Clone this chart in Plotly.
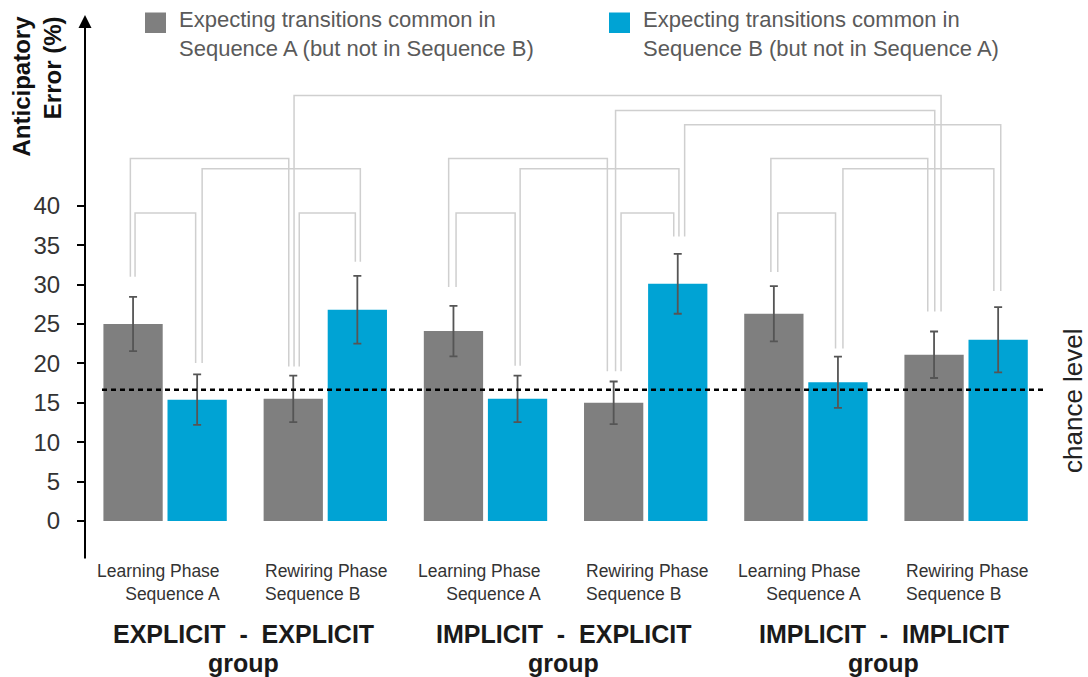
import plotly.graph_objects as go

# ---- data -------------------------------------------------------------
phase_labels = ["Learning Phase<br>Sequence A", "Rewiring Phase<br>Sequence B"] * 3
group_titles = ["EXPLICIT\u00a0\u00a0-\u00a0\u00a0EXPLICIT",
                "IMPLICIT\u00a0\u00a0-\u00a0\u00a0EXPLICIT",
                "IMPLICIT\u00a0\u00a0-\u00a0\u00a0IMPLICIT"]
series_names = ["Expecting transitions common in<br>Sequence A (but not in Sequence B)",
                "Expecting transitions common in<br>Sequence B (but not in Sequence A)"]

seq_a_mean = [25.0, 15.5, 24.1, 15.0, 26.3, 21.1]
seq_a_err = [3.45, 2.95, 3.2, 2.7, 3.5, 2.95]
seq_b_mean = [15.4, 26.8, 15.5, 30.1, 17.6, 23.0]
seq_b_err = [3.2, 4.3, 2.95, 3.8, 3.25, 4.15]

chance_level = 100 / 6
y_ticks = [0, 5, 10, 15, 20, 25, 30, 35, 40]

# ---- geometry -----------------------------------------------------------
W, H = 1088, 677
M_L, M_R, M_T, M_B = 85, 0, 0, 117
PLOT_W = W - M_L - M_R
PLOT_H = H - M_T - M_B
PX = 1 / 160.2          # one screen pixel in x-axis units
YPX = 1 / 7.88          # one screen pixel in y-axis units
BAR_W = 0.37
BAR_GAP = 0.03
X_RANGE = [-0.5, -0.5 + PLOT_W * PX]
Y_RANGE = [-39 * YPX, 521 * YPX]

GRAY = "#7f7f7f"
BLUE = "#00a3d4"
BRACKET = "#cfcfcf"
FONT = "Liberation Sans"

pos = list(range(len(phase_labels)))


def paper_x(px):
    return (px - M_L) / PLOT_W


def paper_y(py):
    return 1 - (py - M_T) / PLOT_H


def bar_center(k):
    """x of bar k (0..11): pairs alternate gray (left) / blue (right)."""
    pair, side = divmod(k, 2)
    return pair + (-1 if side == 0 else 1) * (BAR_W + BAR_GAP) / 2


# where the comparison legs stop above each bar
bracket_feet = [31.0, 20.05, 19.6, 32.9, 29.7, 19.7, 19.0, 36.1, 31.6, 21.9, 26.6, 29.2]
# (left bar, right bar, height, left leg shift px, right leg shift px)
brackets = [
    (0, 1, 39.1, 2, -1.5), (2, 3, 39.1, 6, -2), (0, 2, 46.0, -2.7, -4.5),
    (1, 3, 44.7, 5, 3), (4, 5, 39.1, 2.6, -2.4), (6, 7, 39.1, 7.4, -4),
    (4, 6, 46.0, -4.8, -6.3), (5, 7, 44.7, 2.6, 1.2), (8, 9, 39.1, 3.9, -2.4),
    (8, 10, 46.0, -3, -6.3), (9, 11, 44.7, 5, -4.3), (7, 11, 50.3, 6.9, 2.6),
    (6, 10, 52.1, 1.9, 0.7), (2, 10, 54.0, 0.8, 7),
]

fig = go.Figure()

fig.add_trace(go.Bar(
    x=pos, y=seq_a_mean, name=series_names[0], marker_color=GRAY,
    width=BAR_W, offset=-(BAR_W + BAR_GAP / 2),
    error_y=dict(type="data", array=seq_a_err, color="#555555", thickness=1.8, width=4),
    marker_line_width=0, showlegend=False,
))
fig.add_trace(go.Bar(
    x=pos, y=seq_b_mean, name=series_names[1], marker_color=BLUE,
    width=BAR_W, offset=BAR_GAP / 2,
    error_y=dict(type="data", array=seq_b_err, color="#555555", thickness=1.8, width=4),
    marker_line_width=0, showlegend=False,
))

# comparison brackets
bx, by = [], []
for i, j, top, oi, oj in brackets:
    xi = bar_center(i) + oi * PX
    xj = bar_center(j) + oj * PX
    bx += [xi, xi, xj, xj, None]
    by += [bracket_feet[i], top, top, bracket_feet[j], None]
fig.add_trace(go.Scatter(x=bx, y=by, mode="lines", hoverinfo="skip",
                         line=dict(color=BRACKET, width=1.5), showlegend=False))

shapes = []
# chance level
shapes.append(dict(type="line", xref="x", yref="y",
                   x0=-0.5 + 17 * PX, x1=-0.5 + 958 * PX, y0=chance_level, y1=chance_level,
                   line=dict(color="black", width=2.5, dash="5px,4px"), layer="above"))

annotations = []
# y axis with arrow head
annotations.append(dict(x=-0.5, y=(521 - 15) * YPX, ax=-0.5, ay=Y_RANGE[0],
                        xref="x", yref="y", axref="x", ayref="y", text="",
                        showarrow=True, arrowhead=2, arrowsize=1.3, arrowwidth=2,
                        arrowcolor="black", standoff=0, startstandoff=0))
# y axis title
annotations.append(dict(x=paper_x(36.5), y=paper_y(86), xref="paper", yref="paper",
                        text="<b>Anticipatory<br>Error (%)</b>", textangle=-90,
                        align="right", showarrow=False, xanchor="center", yanchor="middle",
                        font=dict(size=24, color="#111111", family=FONT)))
# chance level label
annotations.append(dict(x=paper_x(1072.5), y=paper_y(400.5), xref="paper", yref="paper",
                        text="chance level", textangle=-90, showarrow=False,
                        xanchor="center", yanchor="middle",
                        font=dict(size=26, color="#222222", family=FONT)))

# phase labels under each bar pair
for k, lab in enumerate(phase_labels):
    pair_px = M_L + (k + 0.5) / PX
    if k % 2 == 0:
        annotations.append(dict(x=paper_x(pair_px + 57), y=paper_y(582.5),
                                xref="paper", yref="paper",
                                text=lab, align="right", xanchor="right", yanchor="middle",
                                showarrow=False,
                                font=dict(size=17.5, color="#333333", family=FONT)))
    else:
        annotations.append(dict(x=paper_x(pair_px - 62), y=paper_y(582.5),
                                xref="paper", yref="paper",
                                text=lab, align="left", xanchor="left", yanchor="middle",
                                showarrow=False,
                                font=dict(size=17.5, color="#333333", family=FONT)))

# group titles
for g, title in enumerate(group_titles):
    cx = paper_x(M_L + (2 * g + 1) / PX - 2)
    annotations.append(dict(x=cx, y=paper_y(634), xref="paper", yref="paper",
                            text="<b>" + title + "</b>", showarrow=False,
                            xanchor="center", yanchor="middle",
                            font=dict(size=25, color="#1a1a1a", family=FONT)))
    annotations.append(dict(x=cx, y=paper_y(663), xref="paper", yref="paper",
                            text="<b>group</b>", showarrow=False,
                            xanchor="center", yanchor="middle",
                            font=dict(size=25, color="#1a1a1a", family=FONT)))

# legend (swatch + two-line text)
for (sx, col, name) in [(145, GRAY, series_names[0]), (609, BLUE, series_names[1])]:
    shapes.append(dict(type="rect", xref="paper", yref="paper",
                       x0=paper_x(sx), x1=paper_x(sx + 21),
                       y0=paper_y(33), y1=paper_y(12.5),
                       fillcolor=col, line=dict(width=0)))
    annotations.append(dict(x=paper_x(sx + 32), y=paper_y(34), xref="paper", yref="paper",
                            text=name, align="left", xanchor="left", yanchor="middle",
                            showarrow=False,
                            font=dict(size=22, color="#5a5a5a", family=FONT)))

fig.update_layout(
    width=W, height=H,
    margin=dict(l=M_L, r=M_R, t=M_T, b=M_B),
    plot_bgcolor="white", paper_bgcolor="white",
    shapes=shapes, annotations=annotations,
    xaxis=dict(range=X_RANGE, visible=False, fixedrange=True),
    yaxis=dict(range=Y_RANGE, tickvals=y_ticks, ticks="outside", ticklen=7,
               tickwidth=1.5, tickcolor="black", showgrid=False, zeroline=False,
               showline=False, ticklabelstandoff=12,
               tickfont=dict(size=24, color="#333333", family=FONT)),
)

fig.write_html("out.html")
